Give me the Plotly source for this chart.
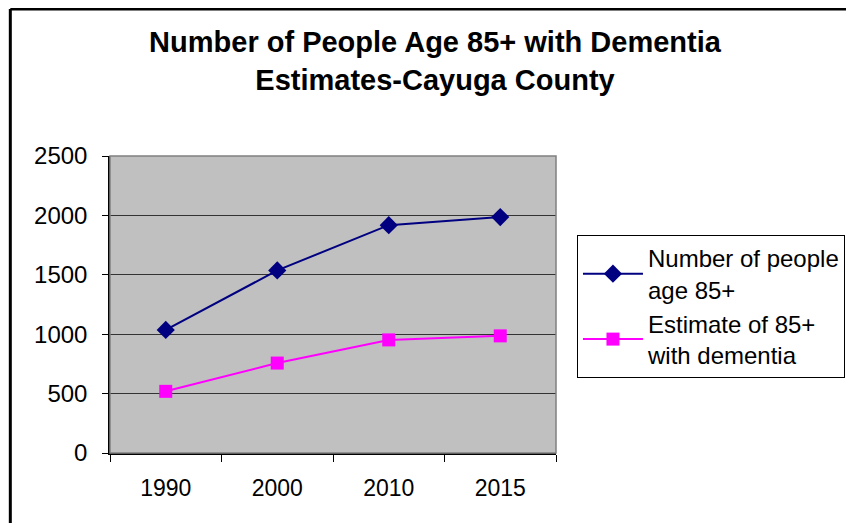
import plotly.graph_objects as go

years = ["1990", "2000", "2010", "2015"]
people_85 = [1036, 1537, 1918, 1986]
dementia_85 = [519, 757, 952, 986]
y_ticks = [0, 500, 1000, 1500, 2000, 2500]

FONT = "Arial, Liberation Sans, sans-serif"

fig = go.Figure()

fig.add_trace(go.Scatter(
    x=years, y=people_85,
    mode="lines+markers",
    name="Number of people<br>age 85+",
    line=dict(color="#000080", width=2),
    marker=dict(symbol="diamond", size=14, color="#000080"),
))

fig.add_trace(go.Scatter(
    x=years, y=dementia_85,
    mode="lines+markers",
    name="Estimate of 85+<br>with dementia",
    line=dict(color="#ff00ff", width=2),
    marker=dict(symbol="square", size=13, color="#ff00ff"),
))

# outer chart frame (only left and top edges are visible in the picture)
fig.add_shape(type="line", xref="paper", yref="paper",
              x0=-0.2235, x1=-0.2235, y0=-0.35, y1=1.495,
              line=dict(color="black", width=3), layer="below")
fig.add_shape(type="line", xref="paper", yref="paper",
              x0=-0.2235, x1=1.70, y0=1.495, y1=1.495,
              line=dict(color="black", width=3), layer="below")
# plot-area border
fig.add_shape(type="rect", xref="paper", yref="paper",
              x0=0, x1=1, y0=0, y1=1,
              line=dict(color="#808080", width=1.5), layer="above")

fig.update_layout(
    width=854, height=515,
    title=dict(
        text="<b>Number of People Age 85+ with Dementia<br>Estimates-Cayuga County</b>",
        x=0.5, xref="container", xanchor="center",
        y=0.914, yref="container", yanchor="top",
        font=dict(family=FONT, size=29, color="black"),
    ),
    font=dict(family=FONT, size=24, color="black"),
    xaxis=dict(
        type="category",
        range=[-0.5, 3.5],
        tickson="boundaries",
        ticks="outside", ticklen=7, tickcolor="black", tickwidth=1,
        showline=True, linecolor="black", linewidth=2,
        showgrid=False,
        ticklabelstandoff=13,
        tickfont=dict(size=23),
    ),
    yaxis=dict(
        range=[0, 2500],
        tickvals=y_ticks,
        ticks="outside", ticklen=6, tickcolor="black", tickwidth=1,
        showline=True, linecolor="black", linewidth=1.5,
        showgrid=True, gridcolor="#333333", gridwidth=1,
        zeroline=False,
        ticklabelstandoff=10,
        tickfont=dict(size=24),
    ),
    legend=dict(
        x=1.047, xanchor="left",
        y=0.734, yanchor="top",
        bordercolor="black", borderwidth=1,
        bgcolor="white",
        font=dict(family=FONT, size=24, color="black"),
        itemwidth=60,
        tracegroupgap=10,
    ),
    plot_bgcolor="#c0c0c0",
    paper_bgcolor="white",
    margin=dict(l=102, r=306, t=148, b=70),
)

fig.write_html("out.html")
